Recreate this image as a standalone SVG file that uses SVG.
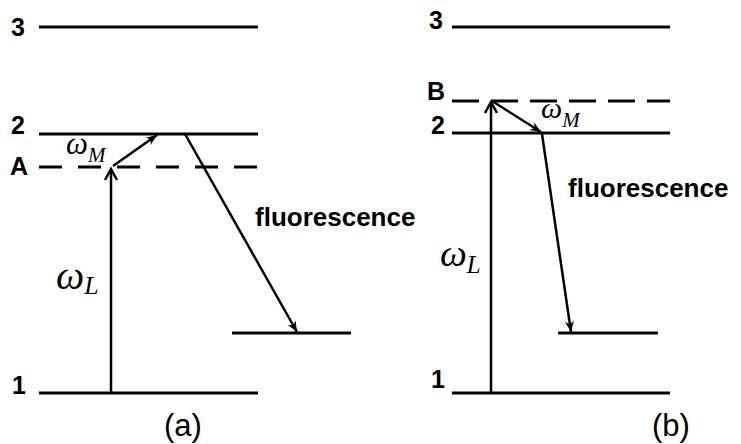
<svg xmlns="http://www.w3.org/2000/svg" width="741" height="444" viewBox="0 0 741 444">
<style>
.lvl{stroke:#000;stroke-width:3;fill:none}
.dash{stroke:#000;stroke-width:3;fill:none}
.arr{stroke:#000;stroke-width:2.5;fill:none}
.num{font-family:"Liberation Sans",Arial,sans-serif;font-weight:bold;font-size:25px;fill:#000}
.fl{font-family:"Liberation Sans",Arial,sans-serif;font-weight:bold;font-size:26px;fill:#000}
.om{font-family:"Liberation Serif","Times New Roman",serif;font-style:italic;fill:#000}
.cap{font-family:"Liberation Sans",Arial,sans-serif;font-size:31px;fill:#000}
</style>
<defs>
<marker id="head" viewBox="-12 -6 14 12" refX="0" refY="0" markerWidth="14" markerHeight="12" markerUnits="userSpaceOnUse" orient="auto">
<path d="M0,0 L-11,-4.5 L-7.5,0 L-11,4.5 z" fill="#000"/>
</marker>
<marker id="vhead" viewBox="-14 -8 16 16" refX="0" refY="0" markerWidth="16" markerHeight="16" markerUnits="userSpaceOnUse" orient="auto">
<path d="M-11,-6 L0,0 L-11,6" fill="none" stroke="#000" stroke-width="2.5"/>
</marker>
</defs>
<g id="panel-a">
<g id="a-level3"><line class="lvl" x1="39" y1="27" x2="258" y2="27"/><text class="num" x="11" y="36">3</text></g>
<g id="a-level2"><line class="lvl" x1="39" y1="134" x2="258" y2="134"/><text class="num" x="11" y="134">2</text></g>
<g id="a-levelA"><line class="dash" x1="39" y1="167" x2="258" y2="167" stroke-dasharray="23 16"/><text class="num" x="10" y="175">A</text></g>
<g id="a-level1"><line class="lvl" x1="39" y1="393" x2="258" y2="393"/><text class="num" x="12" y="394">1</text></g>
<g id="a-lower"><line class="lvl" x1="232" y1="333" x2="351" y2="333"/></g>
<g id="a-labels">
<text class="om" x="56" y="289" font-size="40">ω<tspan font-size="26" dy="5">L</tspan></text>
<text class="om" x="66" y="154" font-size="31">ω<tspan font-size="21" dy="8">M</tspan></text>
<text class="fl" x="255" y="226">fluorescence</text>
<text class="cap" x="164" y="436">(a)</text>
</g>
</g>
<g id="panel-b">
<g id="b-level3"><line class="lvl" x1="452" y1="27" x2="670" y2="27"/><text class="num" x="429" y="29">3</text></g>
<g id="b-levelB"><line class="dash" x1="452" y1="101" x2="670" y2="101" stroke-dasharray="27 12"/><text class="num" x="427" y="100">B</text></g>
<g id="b-level2"><line class="lvl" x1="452" y1="133" x2="670" y2="133"/><text class="num" x="431" y="134">2</text></g>
<g id="b-level1"><line class="lvl" x1="452" y1="393" x2="670" y2="393"/><text class="num" x="431" y="388">1</text></g>
<g id="b-lower"><line class="lvl" x1="558" y1="333" x2="658" y2="333"/></g>
<g id="b-labels">
<text class="om" x="440" y="266" font-size="38">ω<tspan font-size="25" dy="7">L</tspan></text>
<text class="om" x="541" y="118" font-size="30">ω<tspan font-size="21" dy="9">M</tspan></text>
<text class="fl" x="568" y="197">fluorescence</text>
<text class="cap" x="652" y="436">(b)</text>
</g>
</g>
<g id="connectors">
<line class="arr" x1="111" y1="393" x2="111" y2="169" marker-end="url(#vhead)"/>
<line class="arr" x1="113" y1="166" x2="157" y2="135" marker-end="url(#head)"/>
<line class="arr" x1="185" y1="134" x2="297" y2="332" marker-end="url(#head)"/>
<line class="arr" x1="491" y1="393" x2="491" y2="102" marker-end="url(#vhead)"/>
<line class="arr" x1="492" y1="101" x2="541" y2="132" marker-end="url(#head)"/>
<line class="arr" x1="542" y1="134" x2="571" y2="332" marker-end="url(#head)"/>
</g>
</svg>
